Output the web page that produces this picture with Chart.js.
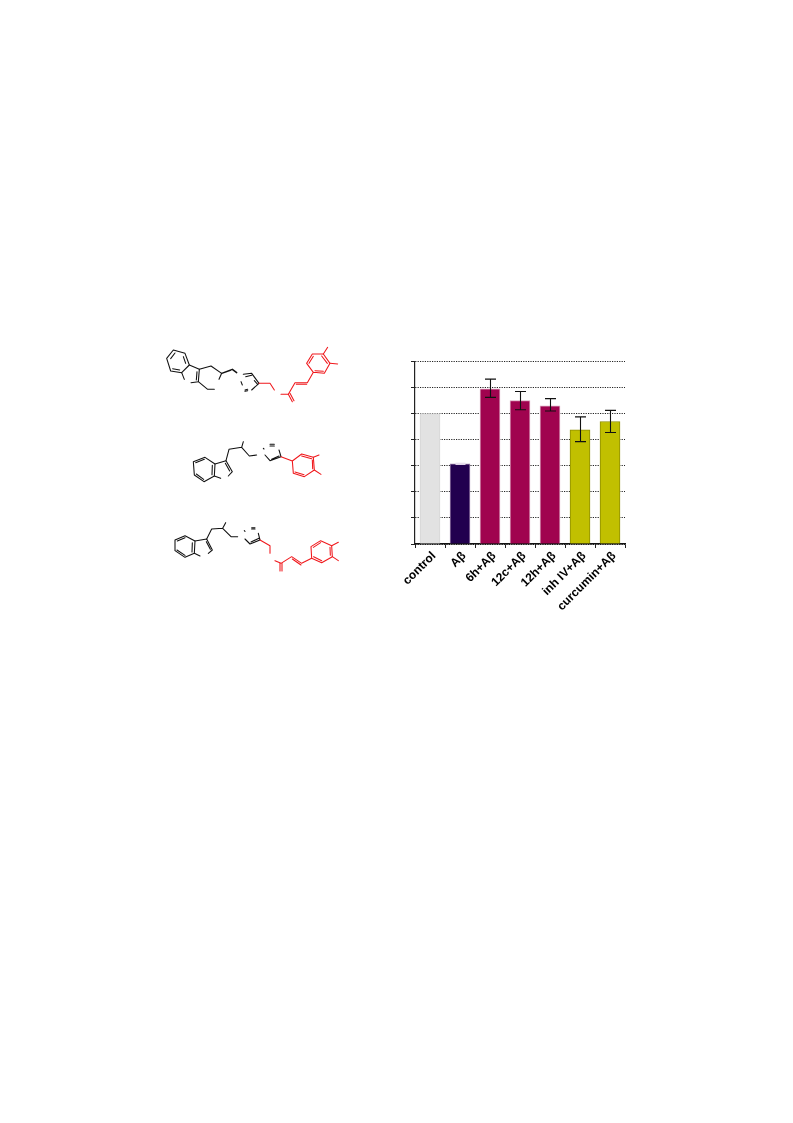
<!DOCTYPE html>
<html>
<head>
<meta charset="utf-8">
<title>Bar chart</title>
<script src="https://cdn.jsdelivr.net/npm/chart.js@4/dist/chart.umd.min.js"></script>
<style>
  html,body{margin:0;padding:0;background:#fff}
  body{position:relative;width:793px;height:1123px;overflow:hidden}
  #chartWrap{position:absolute;left:380px;top:350px;width:250px;height:260px}
  #mols{position:absolute;left:155px;top:340px}
  #mols path{fill:none;stroke-width:3.2;stroke-linecap:round;stroke-linejoin:round}
  .k path{stroke:#111}
  .r path{stroke:#f0181c}
</style>
</head>
<body>
<!-- structures, traced by hand, units are 3x page px -->
<svg id="mols" width="200" height="240" viewBox="0 0 600 720">
  <g class="k">
    <path d="M35 55L55 30L90 40L103 75L80 98L47 93Z M47 56L60 39 M85 50L92 70 M74 90L53 86"/>
    <path d="M103 75L133 88L130 125L108 128 M80 98L88 118 M126 95L124 120"/>
    <path d="M133 88L168 78L200 100L192 118 M130 125L158 148L178 148"/>
    <path d="M200 100L232 88L245 98 M200 100L228 90" style="stroke-width:4.5"/>
    <path d="M265 103L290 100L312 130L290 150 M272 110L290 106 M298 122L308 133 M258 125L262 135 M270 150L278 148 M270 154L278 152"/>
  </g>
  <g class="r">
    <path d="M312 130L345 130L358 150 M378 163L400 163L420 128L457 128L475 97L455 70L472 42L505 42L525 70L508 100L475 97 M424 133L455 133 M462 70L475 49 M500 48L517 70 M505 94L480 92"/>
    <path d="M505 42L518 22 M525 70L548 72 M400 163L412 185 M405 160L417 182"/>
  </g>
  <g class="k">
    <path d="M115 365L150 352L180 372L178 408L147 425L118 405Z M122 368L148 358 M172 376L171 404 M146 418L124 402"/>
    <path d="M180 372L213 362L232 395L220 408 M178 408L197 415 M211 370L224 393"/>
    <path d="M213 362L222 328L260 322L265 305 M260 322L283 348L305 345"/>
    <path d="M345 362L378 350L372 330 M345 362L330 345 M350 358L372 348 M325 325L327 327 M345 313L358 313 M345 318L358 318"/>
  </g>
  <g class="r">
    <path d="M378 350L412 363 M412 363L440 342L475 352L478 390L448 410L415 400Z M440 348L470 356 M472 360L473 386 M447 404L420 396"/>
    <path d="M475 352L492 345 M478 390L498 403"/>
  </g>
  <g class="k">
    <path d="M60 600L90 587L120 603L118 640L90 652L60 632Z M67 603L90 593 M112 608L111 636 M90 646L66 630"/>
    <path d="M120 603L155 597L172 630L160 640 M118 640L135 648 M154 605L166 628"/>
    <path d="M155 597L170 567L203 565L212 548 M203 565L228 590L248 590"/>
    <path d="M285 612L315 600L310 580 M285 612L270 597 M288 606L312 595 M268 572L270 574 M290 563L300 563 M290 567L300 567"/>
  </g>
  <g class="r">
    <path d="M315 600L345 617L345 640 M360 662L378 670L410 650L440 670L470 655 M412 657L438 675"/>
    <path d="M470 655L468 620L497 602L530 617L532 650L500 668Z M475 622L497 608 M525 622L526 646 M500 662L476 650"/>
    <path d="M530 617L550 607 M532 650L550 662 M375 670L375 693 M381 670L381 693"/>
  </g>
</svg>

<div id="chartWrap"><canvas id="barChart" width="250" height="260"></canvas></div>

<script>
const categories = ["control", "Aβ", "6h+Aβ", "12c+Aβ", "12h+Aβ", "inh IV+Aβ", "curcumin+Aβ"];
const means = [100, 61.5, 119, 110, 106, 87.5, 94];
const errLow = [100, 61, 112.5, 103, 102, 78.5, 85.5];
const errHigh = [100, 62, 126.5, 117, 111.5, 97.5, 102.5];
const fillColors = ["#e2e2e2", "#22004f", "#a0034f", "#a0034f", "#a0034f", "#c1c000", "#c1c000"];
const edgeColors = ["#d6d6d6", "#9a7fa8", "#d9a0bb", "#d9a0bb", "#d9a0bb", "#8e8e00", "#8e8e00"];

// 오차막대 — 값은 errLow/errHigh, 위치는 스케일에서
const errorBars = {
  id: "errorBars",
  afterDatasetsDraw(chart){
    const {ctx, scales:{x, y}} = chart;
    ctx.save();
    categories.forEach((c, i)=>{
      if(errLow[i] === errHigh[i]) return;
      const px = Math.round(x.getPixelForValue(i)) + 0.5;
      const top = y.getPixelForValue(errHigh[i]);
      const bot = y.getPixelForValue(errLow[i]);
      ctx.strokeStyle = i === 1 ? "#e6dcec" : "#111";
      ctx.lineWidth = i === 1 ? 1 : 1.1;
      const cap = i === 1 ? 5 : 5.5;
      ctx.beginPath();
      ctx.moveTo(px, top); ctx.lineTo(px, bot);
      ctx.moveTo(px-cap, top); ctx.lineTo(px+cap, top);
      ctx.moveTo(px-cap, bot); ctx.lineTo(px+cap, bot);
      ctx.stroke();
    });
    ctx.restore();
  }
};

new Chart(document.getElementById("barChart"), {
  type: "bar",
  data: {
    labels: categories,
    datasets: [{
      data: means,
      backgroundColor: fillColors,
      borderColor: edgeColors,
      borderWidth: 1,
      barThickness: 20,
    }]
  },
  options: {
    responsive: false,
    animation: false,
    layout: {padding: {top: 11.5, right: 5, left: 0, bottom: 0}},
    plugins: {legend: {display: false}, tooltip: {enabled: false}},
    scales: {
      x: {
        afterFit: s => { s.height = 66; },
        grid: {drawOnChartArea: false, drawTicks: true, tickLength: 4, tickColor: "#222", tickWidth: 1},
        border: {color: "#111", width: 1.5},
        ticks: {
          color: "#000",
          font: {family: "'Liberation Sans'", size: 12, weight: "bold"},
          maxRotation: 45, minRotation: 45, autoSkip: false, padding: 1, labelOffset: 4,
        }
      },
      y: {
        min: 0, max: 140,
        afterFit: s => { s.width = 35; },
        grid: {
          color: "#222", lineWidth: 1,
          tickLength: 4, tickColor: "#222", tickWidth: 1, tickBorderDash: [],
        },
        border: {color: "#222", width: 1.2, dash: [1.2, 1.2]},
        ticks: {stepSize: 20, callback: () => "", font: {size: 1}, padding: 0},
      }
    }
  },
  plugins: [errorBars]
});
</script>
</body>
</html>
